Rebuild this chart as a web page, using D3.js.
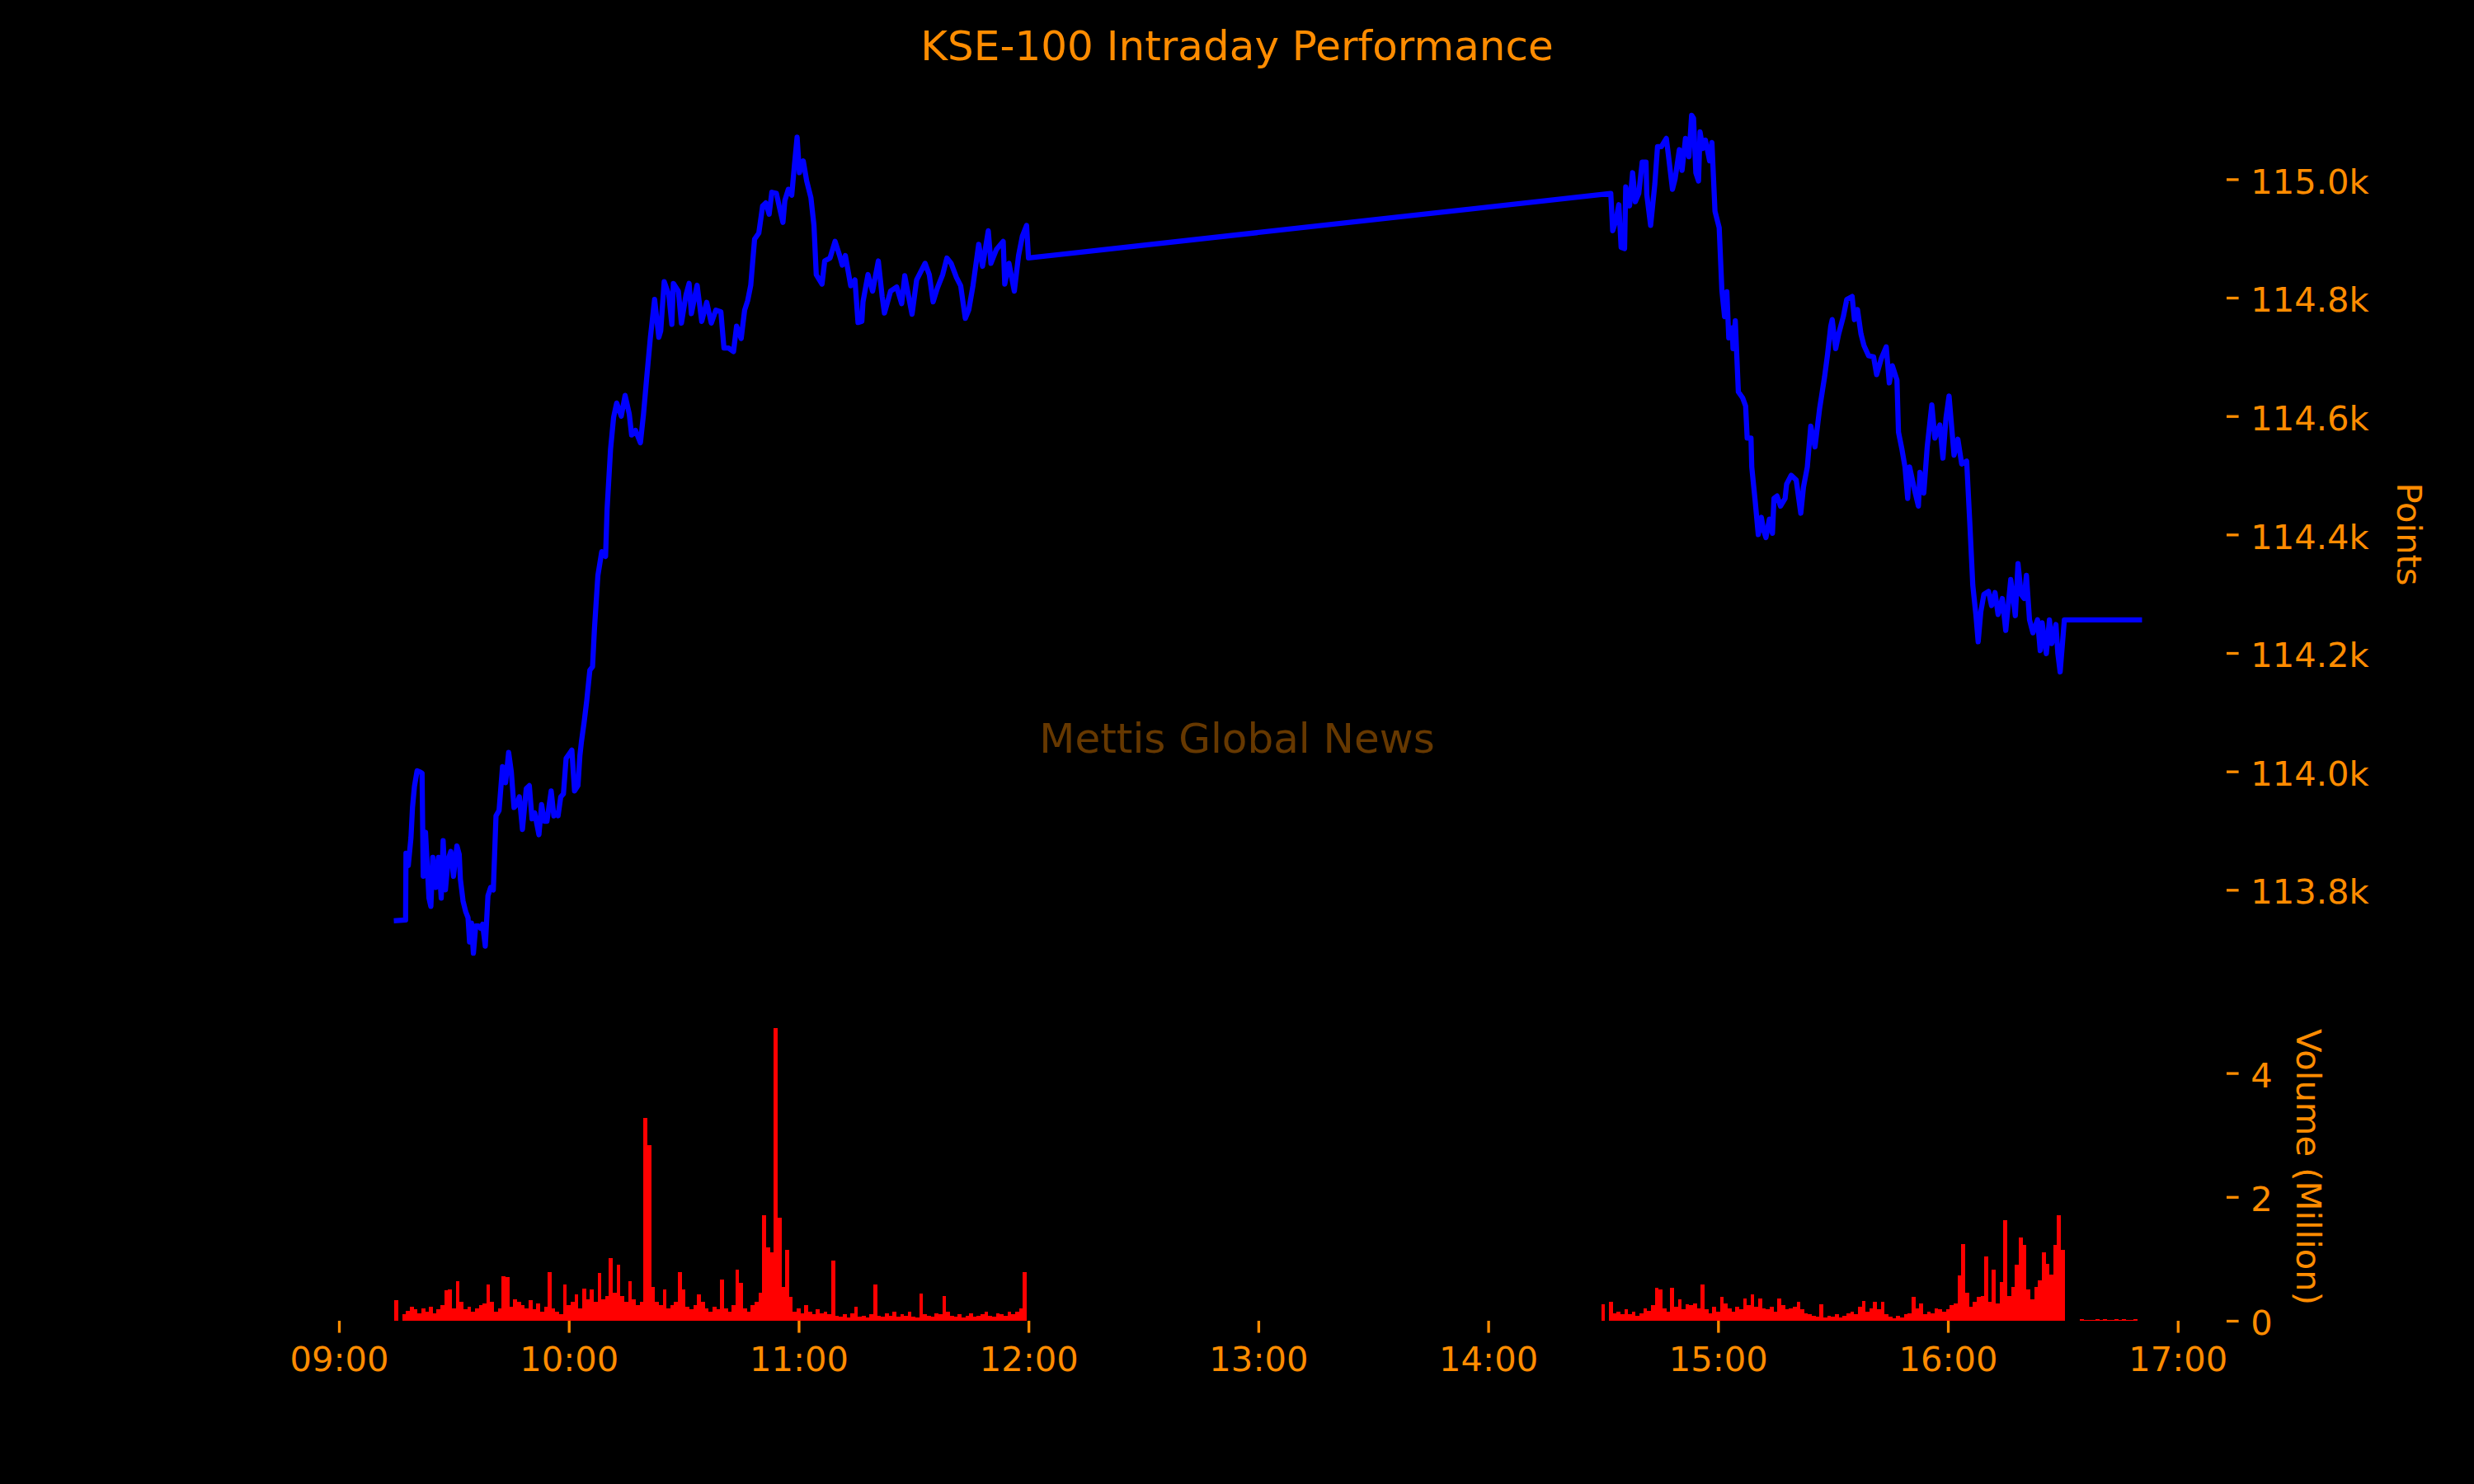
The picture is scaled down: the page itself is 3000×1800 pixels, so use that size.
<!DOCTYPE html>
<html><head><meta charset="utf-8">
<script src="https://cdn.jsdelivr.net/npm/d3@7"></script>
<style>html,body{margin:0;padding:0;background:#000;} svg{display:block;}</style>
</head><body>
<script>
// ---------------- DATA ----------------
const titleText = "KSE-100 Intraday Performance";
const watermarkText = "Mettis Global News";
const priceAxisLabel = "Points";
const volumeAxisLabel = "Volume (Million)";
const xTickLabels = ["09:00","10:00","11:00","12:00","13:00","14:00","15:00","16:00","17:00"];
const priceTicks = [113800, 114000, 114200, 114400, 114600, 114800, 115000];
const volumeTicks = [0, 2, 4];

// KSE-100 index level; time given as minutes after 09:00
const priceMinutes = [
15,17.4,17.5,18.1,18.8,19.2,19.7,20.4,21.2,21.7,22.0,22.6,23.5,24.0,24.5,25.3,26.0,26.7,27.2,27.8,28.5,29.2,29.9,30.8,31.4,31.7,32.4,33.1,33.7,34.1,34.6,35.1,35.7,36.4,37.0,37.5,38.2,38.9,39.6,40.3,41.0,41.8,42.7,43.5,44.3,45.0,45.7,46.4,47.1,47.9,48.9,49.7,50.4,51.1,52.2,52.9,53.6,54.3,55.4,56.1,56.8,57.2,57.9,58.6,59.3,60.4,60.8,61.5,62.4,62.9,63.3,64.0,
64.7,65.5,66.2,66.7,67.6,68.6,69.6,70.0,70.9,71.7,72.5,73.7,74.7,75.8,76.4,77.4,78.7,79.5,80.3,81.3,82.4,83.5,84.0,84.9,86.1,86.9,87.3,88.6,89.4,90.6,91.4,92.0,93.5,94.7,96.0,97.2,98.4,99.7,100.5,101.7,103.0,103.8,105.0,105.9,106.7,107.5,
108.5,109.6,110.6,111.4,112.3,113.0,114.2,114.9,115.9,116.4,117.3,118.2,118.9,119.6,120.2,121.2,122.1,123.2,124.0,124.6,126.1,126.8,128.2,129.5,130.7,131.4,132.2,133.6,134.7,135.5,136.5,136.8,138.1,139.3,140.8,141.8,142.4,144.0,145.6,146.9,147.7,148.7,149.6,150.8,151.9,153.0,154.1,155.1,156.2,157.6,158.7,159.8,161.2,162.3,163.5,164.4,165.5,167.0,168.0,169.5,170.2,171.6,173.4,173.8,174.9,176.3,177.4,178.4,179.5,180.0,
332.0,332.5,333.4,334.1,334.7,335.6,335.9,336.9,337.7,338.4,339.3,340.2,341.2,341.4,342.4,343.5,344.2,345.2,346.5,347.0,348.1,348.8,349.9,350.6,351.5,352.4,353.1,353.6,354.2,354.9,355.3,356.0,356.7,357.8,358.4,359.2,360.3,
361.0,361.7,362.3,362.8,363.7,363.9,364.5,365.3,366.4,367.2,367.6,368.6,368.8,369.7,370.5,371.3,371.9,372.5,373.4,374.2,374.6,375.4,376.3,377.5,377.9,379.1,380.4,381.6,382.3,383.3,384.2,385.3,386.5,387.8,388.6,389.4,389.8,390.7,391.5,392.7,393.6,395.0,395.6,396.4,397.3,398.1,399.3,400.6,401.4,402.6,403.9,404.7,405.5,406.7,407.1,408.0,408.8,409.5,410.0,411.3,412.3,412.7,413.7,414.6,415.8,416.6,417.9,418.7,419.5,420.3,421.6,422.6,423.6,424.9,425.7,426.5,427.3,427.9,428.6,429.4,430.6,431.4,432.3,433.1,434.2,435.1,436.4,437.6,438.3,439.1,439.9,440.5,441.3,442.2,443.4,444.1,444.6,445.7,446.5,447.1,448.2,448.7,449.3,450.4,470
];
const priceValues = [
113748,113749,113862,113841,113888,113939,113974,114001,113999,113997,113823,113897,113786,113772,113855,113804,113855,113786,113883,113800,113851,113865,113823,113874,113860,113818,113781,113763,113753,113712,113744,113693,113739,113739,113735,113742,113705,113790,113804,113800,113925,113934,114008,113981,114032,113999,113939,113944,113957,113902,113971,113976,113920,113930,113893,113944,113916,113916,113967,113925,113930,113925,113957,113962,114022,114032,114036,113967,113976,114027,114050,114083,
114120,114171,114177,114241,114331,114371,114363,114443,114544,114598,114622,114600,114635,114603,114568,114576,114555,114603,114662,114733,114797,114733,114744,114827,114805,114755,114824,114811,114757,114805,114824,114773,114821,114760,114792,114757,114779,114776,114715,114715,114709,114752,114731,114779,114795,114821,
114899,114909,114955,114960,114941,114978,114976,114955,114927,114964,114983,114973,115024,115071,115011,115031,114997,114969,114922,114839,114823,114862,114867,114895,114871,114855,114871,114820,114830,114758,114760,114793,114839,114811,114862,114802,114774,114811,114818,114790,114837,114802,114772,114830,114844,114858,114839,114793,114816,114839,114867,114858,114834,114820,114765,114779,114820,114890,114853,114913,114858,114881,114895,114823,114858,114811,114871,114904,114922,114867,
114976,114913,114932,114957,114885,114883,114987,114955,115011,114962,114976,115029,115029,114974,114922,114992,115055,115055,115069,115043,114983,115001,115050,115015,115069,115038,115108,115103,115011,114997,115080,115052,115066,115031,115062,114946,114918,
114812,114768,114810,114732,114749,114714,114761,114641,114631,114617,114563,114563,114514,114456,114400,114429,114407,114395,114426,114402,114461,114465,114448,114461,114485,114500,114492,114436,114480,114514,114583,114548,114612,114666,114705,114751,114763,114714,114739,114768,114797,114802,114763,114780,114739,114719,114702,114700,114670,114697,114717,114656,114685,114661,114573,114544,114514,114461,114514,114475,114448,114505,114470,114548,114619,114563,114585,114529,114597,114634,114534,114561,114519,114524,114422,114314,114265,114219,114270,114299,114304,114280,114302,114265,114292,114238,114324,114263,114351,114299,114292,114331,114256,114234,114256,114204,114251,114199,114256,114216,114248,114199,114168,114256,114256
];

// Volume (million shares), one bar per minute
const volMorningStart = "09:15";
const volMorning = [
0.33,0,0.10,0.16,0.22,0.18,0.12,0.20,0.15,0.22,0.12,0.18,0.25,0.49,0.51,0.20,0.64,0.30,0.18,0.22,
0.15,0.20,0.25,0.28,0.58,0.30,0.15,0.20,0.72,0.71,0.22,0.35,0.30,0.25,0.20,0.33,0.18,0.28,0.15,0.22,
0.78,0.20,0.15,0.10,0.59,0.25,0.30,0.42,0.20,0.52,0.35,0.50,0.30,0.77,0.35,0.40,1.01,0.45,0.91,0.40,
0.30,0.64,0.35,0.25,0.30,3.27,2.83,0.55,0.30,0.25,0.51,0.20,0.25,0.30,0.79,0.50,0.22,0.18,0.25,0.42,
0.30,0.20,0.15,0.22,0.18,0.66,0.20,0.15,0.25,0.82,0.61,0.20,0.15,0.25,0.30,0.45,1.70,1.19,1.10,4.73,
1.67,0.55,1.14,0.38,0.15,0.20,0.12,0.25,0.15,0.10,0.18,0.12,0.15,0.10,0.97,0.08,0.06,0.10,0.05,0.12,
0.22,0.06,0.08,0.05,0.10,0.59,0.08,0.06,0.12,0.08,0.15,0.06,0.10,0.08,0.14,0.06,0.05,0.44,0.10,0.08,
0.06,0.12,0.10,0.40,0.15,0.08,0.06,0.10,0.05,0.08,0.12,0.06,0.08,0.10,0.15,0.08,0.06,0.12,0.10,0.08,
0.14,0.10,0.15,0.20,0.79
];
const volAfternoonStart = "14:30";
const volAfternoon = [
0.27,0,0.30,0.12,0.15,0.10,0.18,0.10,0.14,0.08,0.12,0.20,0.16,0.25,0.53,0.51,0.20,0.15,0.53,0.22,
0.34,0.18,0.27,0.25,0.28,0.20,0.59,0.18,0.12,0.22,0.15,0.39,0.28,0.20,0.14,0.22,0.18,0.36,0.25,0.43,
0.22,0.36,0.20,0.18,0.22,0.15,0.36,0.25,0.18,0.20,0.22,0.30,0.18,0.12,0.10,0.08,0.06,0.27,0.05,0.08,
0.06,0.10,0.05,0.08,0.12,0.15,0.10,0.22,0.32,0.15,0.20,0.30,0.18,0.30,0.10,0.06,0.04,0.08,0.05,0.10,
0.12,0.38,0.20,0.28,0.10,0.15,0.12,0.20,0.18,0.15,0.18,0.25,0.28,0.73,1.24,0.45,0.22,0.30,0.38,0.40,
1.04,0.30,0.83,0.28,0.62,1.62,0.40,0.55,0.90,1.34,1.22,0.50,0.35,0.55,0.65,1.10,0.92,0.75,1.22,1.71,
1.15,0,0,0,0,0.03,0.01,0.01,0.01,0.02,0.01,0.03,0.01,0.01,0.02,0.01,0.02,0.01,0.01,0.03
];

// ---------------- CHART ----------------
const W = 3000, H = 1800;
const ORANGE = "#ff8c00";
const FONT = "'DejaVu Sans', sans-serif";
const FS = 41.67;
const axL = 375, axR = 2700, pTop = 89, pBot = 1207, vTop = 1229, vBot = 1602;

const base = new Date(2024, 0, 1, 9, 0, 0);
const atMin = m => new Date(base.getTime() + m * 60000);
const hm = s => { const [h, m] = s.split(":").map(Number); return (h - 9) * 60 + m; };

const svg = d3.select("body").append("svg")
  .attr("width", W).attr("height", H)
  .style("background", "#000");
svg.append("rect").attr("width", W).attr("height", H).attr("fill", "#000");

const priceData = priceMinutes.map((m, i) => ({ t: atMin(m), v: priceValues[i] }));
const volData = [
  ...volMorning.map((v, i) => ({ t: atMin(hm(volMorningStart) + i), v })),
  ...volAfternoon.map((v, i) => ({ t: atMin(hm(volAfternoonStart) + i), v }))
];

const t0 = priceData[0].t, t1 = priceData[priceData.length - 1].t;
const span = t1 - t0;
const x = d3.scaleTime()
  .domain([new Date(+t0 - 0.05 * span), new Date(+t1 + 0.05 * span)])
  .range([axL, axR]);

const [pMin, pMax] = d3.extent(priceValues);
const pPad = (pMax - pMin) * 0.05;
const yP = d3.scaleLinear().domain([pMin - pPad, pMax + pPad]).range([pBot, pTop]);

const vMax = d3.max(volData, d => d.v);
const yV = d3.scaleLinear().domain([0, vMax * 1.05]).range([vBot, vTop]);

// volume bars
const barW = x(atMin(1)) - x(atMin(0));
svg.append("g").attr("shape-rendering", "crispEdges")
  .selectAll("rect").data(volData.filter(d => d.v > 0)).join("rect")
  .attr("x", d => x(d.t) - barW / 2)
  .attr("width", barW)
  .attr("y", d => yV(d.v))
  .attr("height", d => yV(0) - yV(d.v))
  .attr("fill", "#ff0000");

// price line
const line = d3.line().x(d => x(d.t)).y(d => yP(d.v));
svg.append("path").datum(priceData)
  .attr("d", line)
  .attr("fill", "none")
  .attr("stroke", "#0000ff")
  .attr("stroke-width", 6.25)
  .attr("stroke-linejoin", "round")
  .attr("stroke-linecap", "square");

function styleAxis(g, dy) {
  g.select(".domain").remove();
  g.selectAll(".tick line").attr("stroke", ORANGE).attr("stroke-width", 3.33);
  g.selectAll(".tick text").attr("fill", ORANGE)
    .style("font-family", FONT).style("font-size", FS + "px").attr("dy", dy);
}

// price axis (right)
svg.append("g").attr("transform", `translate(${axR},0)`)
  .call(d3.axisRight(yP).tickValues(priceTicks).tickSize(14.6).tickPadding(14.6)
    .tickFormat(d => (d / 1000).toFixed(1) + "k"))
  .call(g => styleAxis(g, "0.4em"));

// volume axis (right)
svg.append("g").attr("transform", `translate(${axR},0)`)
  .call(d3.axisRight(yV).tickValues(volumeTicks).tickSize(14.6).tickPadding(14.6)
    .tickFormat(d3.format("d")))
  .call(g => styleAxis(g, "0.4em"));

// time axis (bottom of volume panel)
svg.append("g").attr("transform", `translate(0,${vBot})`)
  .call(d3.axisBottom(x).tickValues(xTickLabels.map(s => atMin(hm(s)))).tickSize(14.6).tickPadding(14.6)
    .tickFormat(d3.timeFormat("%H:%M")))
  .call(g => styleAxis(g, "0.77em"));

// axis labels
svg.append("text").attr("transform", `translate(2907,${(pTop + pBot) / 2}) rotate(90)`)
  .attr("text-anchor", "middle").attr("fill", ORANGE)
  .style("font-family", FONT).style("font-size", FS + "px").text(priceAxisLabel);
svg.append("text").attr("transform", `translate(2785,${(vTop + vBot) / 2}) rotate(90)`)
  .attr("text-anchor", "middle").attr("fill", ORANGE)
  .style("font-family", FONT).style("font-size", FS + "px").text(volumeAxisLabel);

// title
svg.append("text").attr("x", W / 2).attr("y", 73).attr("text-anchor", "middle")
  .attr("fill", ORANGE).style("font-family", FONT).style("font-size", "50px").text(titleText);

// watermark
svg.append("text").attr("x", W / 2).attr("y", 913).attr("text-anchor", "middle")
  .attr("fill", ORANGE).attr("fill-opacity", 0.4)
  .style("font-family", FONT).style("font-size", "50px").text(watermarkText);
</script>
</body></html>
